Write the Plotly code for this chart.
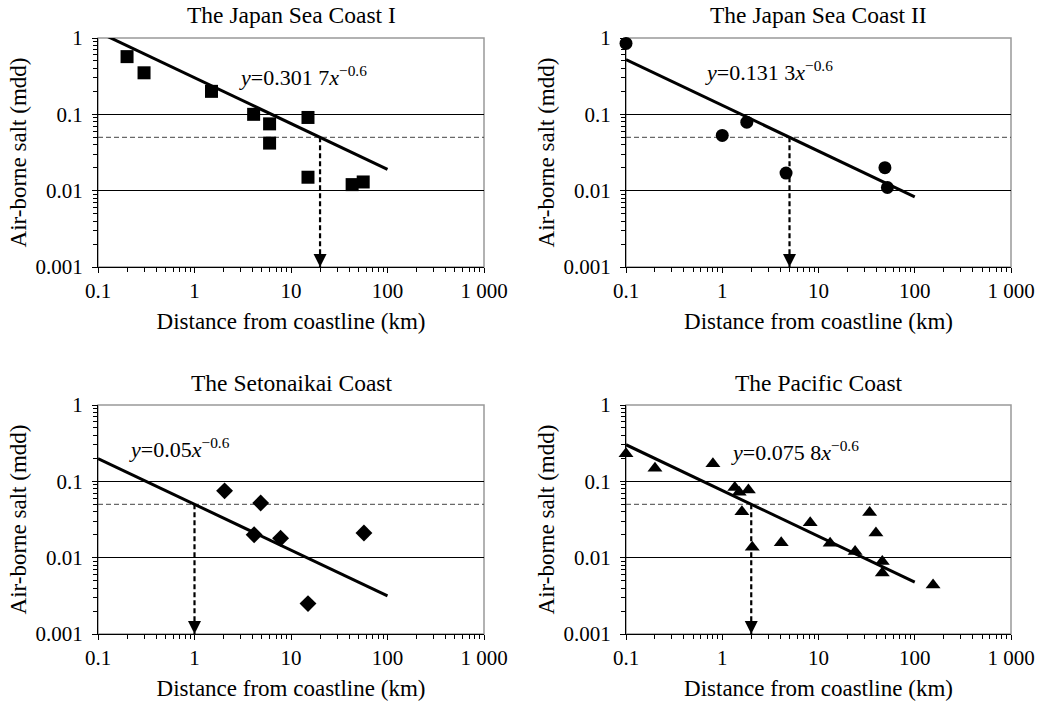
import numpy as np
import plotly.graph_objects as go

# ---------------- data ----------------
titles = ["The Japan Sea Coast I", "The Japan Sea Coast II",
          "The Setonaikai Coast", "The Pacific Coast"]

jsc1_x = [0.2, 0.3, 1.5, 4.1, 6.0, 6.0, 15, 15, 43, 56]
jsc1_y = [0.57, 0.35, 0.20, 0.10, 0.075, 0.042, 0.091, 0.015, 0.012, 0.013]

jsc2_x = [0.1, 1.0, 1.8, 4.6, 49, 52]
jsc2_y = [0.85, 0.053, 0.079, 0.017, 0.020, 0.011]

seto_x = [2.05, 4.85, 4.15, 7.8, 15, 57]
seto_y = [0.075, 0.052, 0.020, 0.018, 0.0025, 0.021]

pac_x = [0.1, 0.2, 0.8, 1.35, 1.5, 1.87, 1.6, 2.05, 4.1, 8.2, 13.2, 24, 34, 39.5, 46, 46, 155]
pac_y = [0.23, 0.148, 0.17, 0.083, 0.072, 0.077, 0.040, 0.0137, 0.0157, 0.0287,
         0.0154, 0.012, 0.039, 0.021, 0.0089, 0.0063, 0.0044]

coef = [0.3017, 0.1313, 0.05, 0.0758]
coef_text = ["0.301 7", "0.131 3", "0.05", "0.075 8"]
exponent = -0.6
threshold = 0.05
fit_range = [0.1, 100]

x_tickvals = [0.1, 1, 10, 100, 1000]
x_ticktext = ["0.1", "1", "10", "100", "1 000"]
y_tickvals = [0.001, 0.01, 0.1, 1]
y_ticktext = ["0.001", "0.01", "0.1", "1"]

xlabel = "Distance from coastline (km)"
ylabel = "Air-borne salt (mdd)"

series = [(jsc1_x, jsc1_y, "square", 13), (jsc2_x, jsc2_y, "circle", 13),
          (seto_x, seto_y, "diamond", 13), (pac_x, pac_y, "triangle-up", 13)]

# --------------- layout geometry (page pixels) ---------------
W, H = 1042, 702
col_px = [(98, 484), (626, 1011)]
row_px = [(38, 267), (405, 634)]
title_y = [15, 383]
eq_pos = [(303, 76), (769, 71), (179, 448), (795, 451)]

FONT = "Liberation Serif, Times New Roman, serif"


def px_x(p):
    return p / W


def px_y(p):
    return 1 - p / H


fig = go.Figure()
annotations = []
shapes = []

for i, (xs, ys, sym, msize) in enumerate(series):
    r, c = divmod(i, 2)
    ax_id = "" if i == 0 else str(i + 1)
    xa, ya = "x" + ax_id, "y" + ax_id
    x0p, x1p = col_px[c]
    y0p, y1p = row_px[r]

    # threshold dashed line
    fig.add_trace(go.Scatter(x=[0.1, 1000], y=[threshold, threshold], mode="lines",
                             line=dict(color="#444444", width=1, dash="5px,3px"),
                             xaxis=xa, yaxis=ya, showlegend=False, hoverinfo="skip"))
    # fit line
    fx = np.array(fit_range)
    fy = coef[i] * fx ** exponent
    fig.add_trace(go.Scatter(x=fx, y=fy, mode="lines",
                             line=dict(color="black", width=3),
                             xaxis=xa, yaxis=ya, showlegend=False))
    # vertical dashed drop line
    xc = (coef[i] / threshold) ** (1 / -exponent)
    fig.add_trace(go.Scatter(x=[xc, xc], y=[threshold, 0.001], mode="lines",
                             line=dict(color="black", width=2.2, dash="5px,3px"),
                             xaxis=xa, yaxis=ya, showlegend=False, hoverinfo="skip"))
    # arrow head
    annotations.append(dict(x=np.log10(xc), y=-3, xref=xa, yref=ya, text="",
                            showarrow=True, arrowhead=2, arrowsize=1.3, arrowwidth=2,
                            arrowcolor="black", ax=0, ay=-14))
    # data markers
    fig.add_trace(go.Scatter(x=xs, y=ys, mode="markers", cliponaxis=False,
                             marker=dict(symbol=sym, size=msize,
                                         color="black", line=dict(width=0)),
                             xaxis=xa, yaxis=ya, showlegend=False))

    dom_x = [px_x(x0p), px_x(x1p)]
    dom_y = [px_y(y1p), px_y(y0p)]
    fig.layout["xaxis" + ax_id] = dict(
        type="log", showline=True, linecolor="black", linewidth=1,
        ticks="outside", ticklen=5, tickcolor="black", mirror=False,
        tickfont=dict(family=FONT, size=21, color="black"),
        zeroline=False, automargin=False,
        domain=dom_x, anchor=ya, range=[-1, 3],
        tickmode="array", tickvals=x_tickvals, ticktext=x_ticktext, showgrid=False,
        minor=dict(ticks="outside", ticklen=4, tickcolor="black", dtick="D1", showgrid=False),
        title=dict(text=xlabel, font=dict(family=FONT, size=23, color="black"), standoff=10))
    fig.layout["yaxis" + ax_id] = dict(
        type="log", showline=True, linecolor="black", linewidth=1,
        ticks="outside", ticklen=5, tickcolor="black", mirror=False,
        tickfont=dict(family=FONT, size=21, color="black"), ticklabelstandoff=5,
        zeroline=False, automargin=False,
        domain=dom_y, anchor=xa, range=[-3, 0],
        tickmode="array", tickvals=y_tickvals, ticktext=y_ticktext,
        showgrid=True, gridcolor="black", gridwidth=1,
        minor=dict(ticks="outside", ticklen=4, tickcolor="black", dtick="D1", showgrid=False),
        title=dict(text=ylabel, font=dict(family=FONT, size=23, color="black"), standoff=2))

    # gray frame
    shapes.append(dict(type="rect", xref=xa + " domain", yref=ya + " domain",
                       x0=0, x1=1, y0=0, y1=1, line=dict(color="#999999", width=1.5),
                       layer="below"))
    # subplot title
    annotations.append(dict(x=px_x((x0p + x1p) / 2), y=px_y(title_y[r]),
                            xref="paper", yref="paper", xanchor="center", yanchor="middle",
                            text=titles[i], showarrow=False,
                            font=dict(family=FONT, size=23.5, color="black")))
    # equation
    ex, ey = eq_pos[i]
    annotations.append(dict(x=px_x(ex), y=px_y(ey), xref="paper", yref="paper",
                            xanchor="center", yanchor="middle",
                            text="<i>y</i>=" + coef_text[i] + "<i>x</i><sup>\u22120.6</sup>",
                            showarrow=False,
                            font=dict(family=FONT, size=22, color="black")))

fig.update_layout(width=W, height=H, margin=dict(l=0, r=0, t=0, b=0, autoexpand=False),
                  plot_bgcolor="white", paper_bgcolor="white",
                  annotations=annotations, shapes=shapes,
                  font=dict(family=FONT, color="black"))

fig.write_html("out.html", config={"displayModeBar": False},
               post_script="document.body.style.margin='0';document.body.style.overflow='hidden';")
